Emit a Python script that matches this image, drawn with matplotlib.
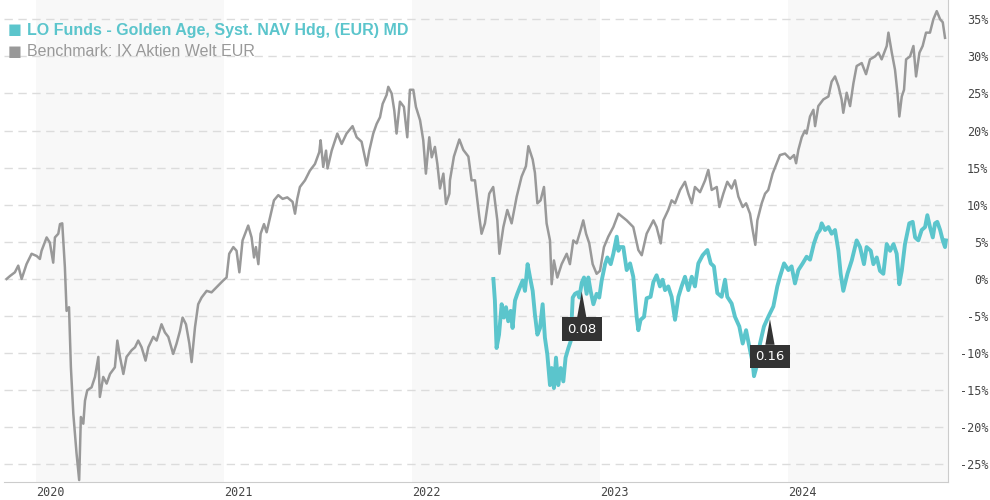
import matplotlib
matplotlib.use('Agg')
import matplotlib.pyplot as plt
import numpy as np

# benchmark: IX Aktien Welt EUR (decimal year, % performance)
bench_t = [2019.844, 2019.862, 2019.888, 2019.906, 2019.924, 2019.950, 2019.977, 2020.004, 2020.021, 2020.030,
           2020.057, 2020.074, 2020.092, 2020.101, 2020.119, 2020.128, 2020.140, 2020.154, 2020.163, 2020.176,
           2020.186, 2020.199, 2020.216, 2020.230, 2020.239, 2020.252, 2020.261, 2020.273, 2020.296, 2020.314,
           2020.332, 2020.340, 2020.358, 2020.376, 2020.394, 2020.420, 2020.433, 2020.447, 2020.465, 2020.482,
           2020.509, 2020.527, 2020.544, 2020.562, 2020.583, 2020.598, 2020.624, 2020.642, 2020.668, 2020.686,
           2020.704, 2020.730, 2020.748, 2020.766, 2020.780, 2020.798, 2020.816, 2020.828, 2020.846, 2020.863,
           2020.881, 2020.908, 2020.934, 2020.961, 2020.996, 2021.014, 2021.028, 2021.050, 2021.067, 2021.082,
           2021.099, 2021.129, 2021.147, 2021.160, 2021.170, 2021.183, 2021.195, 2021.213, 2021.227, 2021.245,
           2021.266, 2021.289, 2021.312, 2021.337, 2021.365, 2021.378, 2021.390, 2021.404, 2021.431, 2021.457,
           2021.484, 2021.507, 2021.514, 2021.528, 2021.543, 2021.551, 2021.573, 2021.603, 2021.626, 2021.652,
           2021.684, 2021.706, 2021.732, 2021.759, 2021.773, 2021.794, 2021.812, 2021.830, 2021.844, 2021.865,
           2021.874, 2021.892, 2021.906, 2021.918, 2021.936, 2021.957, 2021.975, 2021.989, 2022.007, 2022.021,
           2022.043, 2022.060, 2022.074, 2022.092, 2022.105, 2022.122, 2022.135, 2022.149, 2022.167, 2022.181,
           2022.199, 2022.202, 2022.223, 2022.252, 2022.273, 2022.300, 2022.317, 2022.335, 2022.358, 2022.370,
           2022.388, 2022.411, 2022.432, 2022.454, 2022.465, 2022.486, 2022.507, 2022.530, 2022.557, 2022.583,
           2022.606, 2022.619, 2022.642, 2022.654, 2022.667, 2022.684, 2022.702, 2022.716, 2022.734, 2022.743,
           2022.755, 2022.773, 2022.796, 2022.823, 2022.840, 2022.858, 2022.876, 2022.897, 2022.911, 2022.926,
           2022.943, 2022.961, 2022.982, 2023.000, 2023.021, 2023.044, 2023.071, 2023.098, 2023.142, 2023.177,
           2023.204, 2023.222, 2023.248, 2023.284, 2023.301, 2023.323, 2023.337, 2023.363, 2023.381, 2023.399,
           2023.426, 2023.452, 2023.470, 2023.488, 2023.505, 2023.532, 2023.559, 2023.576, 2023.594, 2023.621,
           2023.635, 2023.656, 2023.677, 2023.700, 2023.718, 2023.736, 2023.759, 2023.777, 2023.798, 2023.812,
           2023.826, 2023.837, 2023.860, 2023.878, 2023.895, 2023.918, 2023.940, 2023.957, 2023.984, 2024.011,
           2024.032, 2024.043, 2024.055, 2024.073, 2024.090, 2024.099, 2024.117, 2024.135, 2024.144, 2024.161,
           2024.188, 2024.215, 2024.232, 2024.250, 2024.268, 2024.285, 2024.294, 2024.312, 2024.330, 2024.348,
           2024.365, 2024.392, 2024.415, 2024.436, 2024.463, 2024.481, 2024.498, 2024.525, 2024.534, 2024.552,
           2024.569, 2024.582, 2024.592, 2024.605, 2024.617, 2024.628, 2024.649, 2024.667, 2024.681, 2024.699,
           2024.716, 2024.734, 2024.755, 2024.773, 2024.791, 2024.809, 2024.823, 2024.835]
bench_v = [0.0, 0.4, 0.9, 1.8, 0.0, 2.0, 3.4, 3.1, 2.7, 3.8,
           5.6, 4.9, 2.2, 5.6, 6.1, 7.4, 7.5, 1.6, -4.3, -3.8,
           -11.9, -18.2, -23.5, -27.1, -18.6, -19.5, -16.4, -15.0, -14.6, -13.2,
           -10.5, -15.9, -13.2, -14.1, -12.8, -11.9, -8.3, -10.5, -12.8, -10.5,
           -9.6, -9.2, -8.3, -9.2, -11.0, -9.2, -7.8, -8.3, -6.1, -7.2,
           -7.8, -10.1, -8.7, -7.0, -5.2, -6.1, -8.7, -11.2, -6.5, -3.4,
           -2.5, -1.6, -1.8, -1.1, -0.2, 0.2, 3.4, 4.3, 3.8, 0.9,
           5.2, 7.2, 5.6, 2.9, 4.3, 2.0, 6.1, 7.4, 6.3, 8.3,
           10.6, 11.3, 10.8, 11.0, 10.4, 8.8, 10.8, 12.4, 13.3, 14.6,
           15.5, 17.1, 18.7, 15.1, 17.3, 14.9, 17.3, 19.6, 18.2, 19.6,
           20.6, 19.1, 18.5, 15.3, 17.3, 19.6, 20.9, 21.8, 23.6, 24.8,
           25.9, 25.0, 22.7, 19.6, 23.9, 23.2, 19.1, 25.5, 25.5, 23.2,
           21.4, 18.7, 14.2, 19.1, 16.4, 17.8, 15.5, 12.2, 14.2, 10.1,
           11.5, 13.3, 16.5, 18.8, 17.4, 16.5, 13.3, 13.3, 8.4, 6.1,
           7.5, 11.5, 12.4, 7.9, 3.4, 7.0, 9.3, 7.5, 11.1, 13.8,
           15.2, 17.9, 16.1, 14.3, 10.2, 10.6, 12.4, 7.5, 5.2, -0.7,
           2.5, 0.2, 2.0, 3.4, 2.0, 5.2, 4.8, 6.6, 7.9, 6.1,
           4.8, 2.0, 0.7, 1.1, 4.3, 5.7, 7.0, 8.8, 7.9, 7.0,
           3.9, 3.2, 6.1, 7.9, 7.0, 4.8, 7.9, 9.3, 10.6, 10.2,
           12.0, 13.1, 11.5, 10.2, 12.4, 11.7, 13.3, 14.7, 12.0, 12.4,
           9.7, 11.5, 13.1, 12.2, 13.3, 11.1, 9.7, 10.2, 8.8, 6.6,
           4.6, 7.9, 10.2, 11.5, 12.0, 14.2, 15.6, 16.7, 16.9, 16.2,
           16.7, 15.6, 17.4, 19.1, 20.0, 19.6, 21.9, 22.8, 20.6, 23.3,
           24.2, 24.6, 26.6, 27.3, 26.0, 24.2, 22.4, 25.1, 23.3, 26.4,
           28.7, 29.1, 27.6, 29.6, 30.0, 30.5, 29.6, 31.4, 33.2, 30.5,
           28.2, 25.1, 21.9, 24.6, 25.5, 29.6, 30.0, 31.4, 27.3, 30.5,
           31.4, 33.2, 33.2, 35.0, 36.1, 35.0, 34.6, 32.5]

# fund: LO Funds - Golden Age, Syst. NAV Hdg, (EUR) MD
fund_t = [2022.433, 2022.441, 2022.450, 2022.463, 2022.477, 2022.489, 2022.500, 2022.512, 2022.525, 2022.535,
          2022.548, 2022.560, 2022.574, 2022.589, 2022.601, 2022.615, 2022.628, 2022.642, 2022.654, 2022.667,
          2022.681, 2022.695, 2022.707, 2022.720, 2022.734, 2022.743, 2022.755, 2022.766, 2022.778, 2022.791,
          2022.805, 2022.817, 2022.832, 2022.844, 2022.855, 2022.867, 2022.881, 2022.890, 2022.903, 2022.915,
          2022.929, 2022.938, 2022.950, 2022.965, 2022.982, 2022.996, 2023.009, 2023.027, 2023.039, 2023.057,
          2023.071, 2023.089, 2023.098, 2023.106, 2023.124, 2023.142, 2023.160, 2023.177, 2023.195, 2023.204,
          2023.216, 2023.234, 2023.248, 2023.269, 2023.284, 2023.301, 2023.319, 2023.333, 2023.346, 2023.363,
          2023.381, 2023.399, 2023.417, 2023.434, 2023.452, 2023.470, 2023.488, 2023.505, 2023.523, 2023.546,
          2023.571, 2023.589, 2023.606, 2023.624, 2023.647, 2023.665, 2023.677, 2023.700, 2023.718, 2023.741,
          2023.759, 2023.777, 2023.798, 2023.812, 2023.819, 2023.833, 2023.851, 2023.872, 2023.895, 2023.922,
          2023.943, 2023.957, 2023.979, 2024.002, 2024.019, 2024.037, 2024.055, 2024.078, 2024.099, 2024.117,
          2024.138, 2024.156, 2024.170, 2024.179, 2024.197, 2024.215, 2024.232, 2024.250, 2024.268, 2024.280,
          2024.294, 2024.316, 2024.339, 2024.365, 2024.383, 2024.404, 2024.418, 2024.440, 2024.454, 2024.472,
          2024.489, 2024.507, 2024.525, 2024.543, 2024.561, 2024.578, 2024.592, 2024.605, 2024.622, 2024.645,
          2024.663, 2024.676, 2024.693, 2024.711, 2024.729, 2024.741, 2024.755, 2024.770, 2024.782, 2024.794,
          2024.809, 2024.823, 2024.835, 2024.840]
fund_v = [0.0, -2.9, -9.3, -7.5, -3.4, -5.2, -3.8, -5.7, -4.3, -6.6,
          -2.9, -2.0, -1.1, -0.2, -1.6, 2.0, 0.2, -1.6, -4.8, -7.5,
          -6.6, -3.4, -7.9, -10.2, -14.3, -12.0, -14.7, -10.6, -14.3, -12.0,
          -13.8, -10.6, -9.3, -8.4, -2.5, -2.0, -1.8, -2.5, -0.5, 0.2,
          -2.0, 0.2, -1.6, -3.4, -2.0, -2.5, -0.2, 2.0, 2.9, 2.0,
          3.4, 5.7, 3.8, 4.3, 4.3, 1.2, 2.1, 0.3, -5.1, -6.9,
          -5.5, -5.1, -2.6, -2.4, -0.4, 0.5, -1.0, -0.1, -1.5, -1.0,
          -2.4, -5.5, -2.4, -1.0, 0.3, -1.5, 0.3, -1.0, 2.1, 3.2,
          3.9, 2.1, 1.7, -1.9, -2.4, -0.1, -2.4, -3.3, -5.1, -6.4,
          -8.7, -6.9, -9.6, -11.3, -13.1, -11.8, -8.7, -6.4, -5.1, -3.7,
          -1.0, 0.3, 2.1, 1.2, 1.7, -0.6, 1.2, 2.1, 3.0, 2.6,
          4.8, 6.1, 6.6, 7.5, 6.6, 7.0, 6.1, 6.6, 3.8, 0.7,
          -1.6, 0.7, 2.5, 5.2, 4.3, 2.0, 4.3, 3.8, 2.0, 2.9,
          1.1, 0.7, 4.7, 3.8, 4.7, 3.4, -0.7, 1.1, 4.7, 7.5,
          7.7, 5.6, 5.2, 6.6, 7.0, 8.6, 7.0, 5.6, 7.5, 7.7,
          6.6, 5.2, 4.3, 5.2]

# distribution markers
div_t = [2022.903, 2023.904]
div_v = [-1.7, -5.4]
div_labels = ['0.08', '0.16']

years = [2020, 2021, 2022, 2023, 2024]
yticks = list(range(-25, 40, 5))

fund_color = '#5bc5cc'
bench_color = '#999999'

fig = plt.figure(figsize=(9.9, 5.0), dpi=100)
ax = fig.add_axes([0.004, 0.036, 0.9536, 0.964])

x_min, x_max = 2019.830, 2024.851
ax.set_xlim(x_min, x_max)
ax.set_ylim(-27.36, 37.6)

# alternating year bands
for y in years[::2]:
    ax.axvspan(y, min(y + 1, x_max), color='#f8f8f8', zorder=0, lw=0)

for t in yticks:
    ax.axhline(t, color='#dcdcdc', lw=1, ls=(0, (6, 4)), zorder=1)

ax.plot(bench_t, bench_v, color=bench_color, lw=1.8, zorder=3, solid_joinstyle='round')
ax.plot(fund_t, fund_v, color=fund_color, lw=2.8, zorder=4, solid_joinstyle='round')

for t, v, lab in zip(div_t, div_v, div_labels):
    ax.annotate(lab, xy=(t, v), xytext=(0, -27), textcoords='offset points',
                ha='center', va='center', color='white', fontsize=9.5,
                family='DejaVu Sans', zorder=6,
                bbox=dict(boxstyle='square,pad=0.4', fc='#333333', ec='none'),
                arrowprops=dict(arrowstyle='wedge,tail_width=0.7,shrink_factor=0.5',
                                fc='#333333', ec='none', shrinkA=0, shrinkB=0))

for s in ['top', 'left']:
    ax.spines[s].set_visible(False)
ax.spines['bottom'].set_color('#cccccc')
ax.spines['right'].set_color('#cccccc')

ax.yaxis.tick_right()
ax.set_yticks(yticks)
ax.set_yticklabels([f'{t}%' for t in yticks], fontsize=8.5, color='#444444', ha='right',
                   family='DejaVu Sans Mono')
ax.tick_params(axis='y', length=0, pad=29)

ax.set_xticks(years)
ax.set_xticklabels([str(y) for y in years], fontsize=8.5, color='#444444', ha='left',
                   family='DejaVu Sans Mono')
ax.tick_params(axis='x', length=0, pad=3)

# legend
fig.text(0.008, 0.94, '■', color=fund_color, fontsize=10.5, va='center', ha='left', family='DejaVu Sans')
fig.text(0.027, 0.94, 'LO Funds - Golden Age, Syst. NAV Hdg, (EUR) MD', color=fund_color,
         fontsize=11.5, fontweight='bold', va='center', ha='left', family='Liberation Sans')
fig.text(0.008, 0.896, '■', color=bench_color, fontsize=10.5, va='center', ha='left', family='DejaVu Sans')
fig.text(0.027, 0.896, 'Benchmark: IX Aktien Welt EUR', color=bench_color,
         fontsize=11.5, va='center', ha='left', family='Liberation Sans')

fig.savefig('out.png', dpi=100)
